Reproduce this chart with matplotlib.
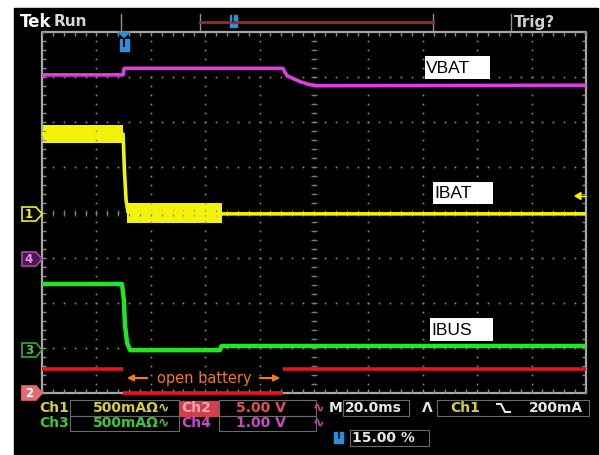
import numpy as np
import matplotlib.pyplot as plt
from matplotlib.patches import Rectangle, Polygon

# ---- waveform data (time in ms, 20 ms/div, 10 div) ----
# Ch4 VBAT, 1.00 V/div
vbat_t = [0, 29.8, 30.2, 88.6, 89.2, 90.1, 91.9, 94.9, 98.0, 101.1, 200]
vbat_v = [4.10, 4.10, 4.245, 4.245, 4.17, 4.08, 4.03, 3.95, 3.89, 3.86, 3.87]

# Ch1 IBAT, 500 mA/div
ibat_t = [0, 29.8, 30.3, 30.9, 31.6, 66.2, 200]
ibat_ma = [885, 885, 487, 155, 20, 0, 0]
# noisy bands: (t start, t end, low mA, high mA)
ibat_bands = [(0, 29.8, 787, 986), (31.4, 66.2, -100, 121)]

# Ch3 IBUS, 500 mA/div
ibus_t = [0, 29.4, 30.1, 30.5, 31.3, 32.4, 65.4, 66.0, 200]
ibus_ma = [733, 733, 556, 279, 79, 0, 0, 46, 46]

# Ch2, 5.00 V/div  (start, end, volts)
ch2_segments = [(0, 29.8, 2.66), (29.8, 88.6, 0.05), (88.6, 200, 2.66)]

# ground marker positions (divisions from bottom) and scales
ch1_off, ch1_scale = 3.97, 500
ch2_off, ch2_scale = 0.0, 5.0
ch3_off, ch3_scale = 0.95, 500
ch4_off, ch4_scale = 2.95, 1.0

MAG = '#e03ee0'
YEL = '#f2f20a'
GRN = '#22e622'
RED = '#e8141e'

W, H = 600, 455
GX0, GX1, GY0, GY1 = 42, 586, 32, 393

fig = plt.figure(figsize=(6, 4.55), dpi=100)
fig.patch.set_facecolor('white')
fig.patches.append(Rectangle((14 / W, 0), (598 - 14) / W, (H - 8) / H,
                             transform=fig.transFigure, color='black', zorder=0))

# scope graticule axes
ax = fig.add_axes([GX0 / W, (H - GY1) / H, (GX1 - GX0) / W, (GY1 - GY0) / H], zorder=2)
ax.set_facecolor('none')
ax.set_xlim(0, 200)
ax.set_ylim(0, 8)
ax.axis('off')

gc = '#8c8c8c'
mx = np.arange(0, 200.01, 4)
my = np.arange(0, 8.001, 0.2)
for xd in range(20, 200, 20):
    ax.plot(np.full_like(my, xd), my, ls='none', marker='s', ms=1.2, color=gc, mew=0)
for yd in range(1, 8):
    ax.plot(mx, np.full_like(mx, yd), ls='none', marker='s', ms=1.2, color=gc, mew=0)
# centre lines with ticks
ax.plot(np.full_like(my, 100), my, ls='none', marker='_', ms=4, color='#7a7a7a', mew=0.9)
ax.plot(mx, np.full_like(mx, 4), ls='none', marker='|', ms=4, color='#7a7a7a', mew=0.9)
# border with inward ticks
ax.plot([0, 200, 200, 0, 0], [0, 0, 8, 8, 0], color='#a8a8a8', lw=1.6, clip_on=False)
ax.plot(mx, np.full_like(mx, 8), ls='none', marker=3, ms=3, color=gc, mew=1, clip_on=False)
ax.plot(mx, np.zeros_like(mx), ls='none', marker=2, ms=3, color=gc, mew=1, clip_on=False)
ax.plot(np.zeros_like(my), my, ls='none', marker=1, ms=3, color=gc, mew=1, clip_on=False)
ax.plot(np.full_like(my, 200), my, ls='none', marker=0, ms=3, color=gc, mew=1, clip_on=False)

# traces
ax.plot(vbat_t, ch4_off + np.array(vbat_v) / ch4_scale, color=MAG, lw=2.6)
ax.plot(ibat_t, ch1_off + np.array(ibat_ma) / ch1_scale, color=YEL, lw=2.6)
for t0, t1, lo, hi in ibat_bands:
    ax.fill_between([t0, t1], ch1_off + lo / ch1_scale, ch1_off + hi / ch1_scale,
                    color=YEL, lw=0)
ax.plot(ibus_t, ch3_off + np.array(ibus_ma) / ch3_scale, color=GRN, lw=3.2)
for t0, t1, v in ch2_segments:
    ax.plot([t0, t1], [ch2_off + v / ch2_scale] * 2, color=RED, lw=2.6,
            solid_capstyle='butt', clip_on=False)

# overlay in pixel coordinates
ov = fig.add_axes([0, 0, 1, 1], zorder=3)
ov.set_facecolor('none')
ov.set_xlim(0, W)
ov.set_ylim(H, 0)
ov.axis('off')

# top bar
ov.text(20, 22, 'Tek', color='white', fontsize=12, fontweight='bold', va='center')
ov.text(54, 22, 'Run', color='#d8d8d8', fontsize=11, fontweight='bold', va='center')
ov.plot([121, 121], [14, 30], color='#909090', lw=1)
ov.plot([200, 200], [14, 30], color='#909090', lw=1)
ov.plot([433, 433], [14, 30], color='#909090', lw=1)
ov.plot([200, 433], [22, 22], color='#a02828', lw=2)
ov.add_patch(Rectangle((229.5, 15), 7, 12, color='#2a8fe0'))
ov.plot([233, 233], [15, 21], color='black', lw=1.2)
ov.plot([511, 511], [14, 30], color='#909090', lw=1)
ov.text(514, 22, 'Trig?', color='#d0d0d0', fontsize=11, fontweight='bold', va='center')

# trigger position marker
ov.add_patch(Polygon([(118.5, 32), (129.5, 32), (124, 37.5)], color='#2a8fe0'))
ov.add_patch(Rectangle((119.5, 38.5), 9, 12, color='#2a8fe0'))
ov.plot([124, 124], [38.5, 45.5], color='black', lw=1.5)

# trigger level arrow
ov.add_patch(Polygon([(575, 196), (581, 192.5), (581, 199.5)], color=YEL))
ov.plot([579, 585], [196, 196], color=YEL, lw=1)


def tag(y, label, edge, face, tcol):
    pts = [(22, y - 7), (36, y - 7), (42, y), (36, y + 7), (22, y + 7)]
    ov.add_patch(Polygon(pts, closed=True, facecolor=face, edgecolor=edge, lw=1.2))
    ov.text(29, y + 0.5, label, color=tcol, fontsize=8.5, fontweight='bold',
            ha='center', va='center')


tag(214, '1', YEL, 'black', YEL)
tag(259, '4', '#b040b0', '#4a1a4a', '#e090e0')
tag(350, '3', '#30b030', 'black', '#40d040')
tag(393, '2', '#e86a6a', '#e86a6a', 'white')

# white labels
for x0, y0, x1, y1, s in [(425, 56, 490, 79, 'VBAT'), (433, 182, 493, 204, 'IBAT'),
                          (430, 318, 493, 341, 'IBUS')]:
    ov.add_patch(Rectangle((x0, y0), x1 - x0, y1 - y0, facecolor='white', edgecolor='none'))
    ov.text(x0 + 1, (y0 + y1) / 2 + 1, s, color='black', fontsize=12.5,
            family='Liberation Sans', va='center')

# open battery annotation
ORG = '#f07a1c'
ov.annotate('', xy=(124, 378), xytext=(150, 378),
            arrowprops=dict(arrowstyle='-|>', color=ORG, lw=1.5, mutation_scale=9))
ov.annotate('', xy=(283, 378), xytext=(257, 378),
            arrowprops=dict(arrowstyle='-|>', color=ORG, lw=1.5, mutation_scale=9))
ov.text(204, 378, 'open battery', color=ORG, fontsize=10.5, ha='center', va='center')

# status area
bc = '#6a6a6a'
for x0, y0, x1, y1 in [(70, 400, 179, 416), (219, 400, 316, 416), (70, 416, 179, 431),
                       (219, 416, 316, 431), (343, 400, 409, 416), (437, 400, 589, 416),
                       (350, 430, 429, 446)]:
    ov.add_patch(Rectangle((x0, y0), x1 - x0, y1 - y0, fill=False, edgecolor=bc, lw=0.8))
ov.add_patch(Rectangle((180, 400.5), 38, 15, color='#d0404c'))

SY = '#d8d030'
SR = '#e0505a'
SG = '#38c838'
SM = '#c848c8'
SW = '#e6e6e6'
fs = 10
kw = dict(fontsize=fs, fontweight='bold', va='center')
ov.text(39, 408, 'Ch1', color=SY, **kw)
ov.text(93, 408, '500mA\u03a9\u223f', color=SY, **kw)
ov.text(181, 408, 'Ch2', color='#f6a6ae', **kw)
ov.text(236, 408, '5.00 V', color=SR, **kw)
ov.text(313, 408, '\u223f', color=SR, **kw)
ov.text(329, 408, 'M', color=SW, **kw)
ov.text(345, 408, '20.0ms', color=SW, **kw)
ov.text(422, 408, '\u039b', color=SW, **kw)
ov.text(450, 408, 'Ch1', color=SY, **kw)
ov.plot([497, 501, 505, 510], [404, 404, 412, 412], color=SW, lw=1.5)
ov.text(529, 408, '200mA', color=SW, **kw)
ov.text(39, 423, 'Ch3', color=SG, **kw)
ov.text(93, 423, '500mA\u03a9\u223f', color=SG, **kw)
ov.text(181, 423, 'Ch4', color=SM, **kw)
ov.text(236, 423, '1.00 V', color=SM, **kw)
ov.text(313, 423, '\u223f', color=SM, **kw)
ov.add_patch(Rectangle((334, 432), 9, 11, color='#2a8fe0'))
ov.plot([338.5, 338.5], [432, 438], color='black', lw=1.2)
ov.text(352, 438, '15.00 %', color=SW, **kw)

fig.savefig('out.png', dpi=100, facecolor=fig.get_facecolor())
